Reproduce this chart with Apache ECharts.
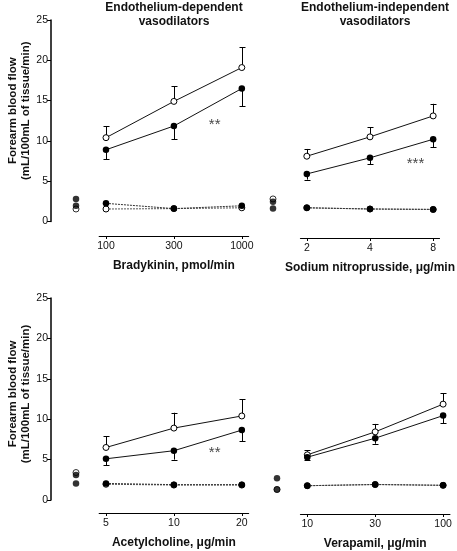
<!DOCTYPE html>
<html><head><meta charset="utf-8">
<script src="https://cdn.jsdelivr.net/npm/echarts@6/dist/echarts.min.js"></script>
<style>html,body{margin:0;padding:0;background:#fff}#c{width:457px;height:551px}</style>
</head><body><div id="c"></div>
<script>
// ---- data ----
const yTicks = [0, 5, 10, 15, 20, 25];
const brdkTicks = ['100', '300', '1000'];
const brdkOpen = [10.4, 14.9, 19.1];
const brdkOpenErr = [11.85, 16.8, 21.6];
const brdkFilled = [8.9, 11.85, 16.5];
const brdkFilledErr = [7.7, 10.2, 14.3];
const brdkOpenDash = [1.55, 1.6, 1.7];
const brdkFilledDash = [2.25, 1.6, 1.95];
const brdkBaseOpen = [1.55];
const brdkBaseFilled = [2.8, 1.95];

const snpTicks = ['2', '4', '8'];
const snpOpen = [8.1, 10.5, 13.1];
const snpOpenErr = [9.0, 11.7, 14.6];
const snpFilled = [5.9, 7.9, 10.2];
const snpFilledErr = [5.2, 7.1, 9.2];
const snpOpenDash = [1.7, 1.55, 1.5];
const snpFilledDash = [1.7, 1.55, 1.5];
const snpBaseOpen = [2.8];
const snpBaseFilled = [2.45, 1.6];

const achTicks = ['5', '10', '20'];
const achOpen = [6.5, 8.9, 10.4];
const achOpenErr = [7.9, 10.8, 12.5];
const achFilled = [5.1, 6.1, 8.65];
const achFilledErr = [4.3, 5.0, 7.25];
const achOpenDash = [1.95, 1.85, 1.85];
const achFilledDash = [2.05, 1.9, 1.9];
const achBaseOpen = [3.4];
const achBaseFilled = [3.1, 2.05];

const verTicks = ['10', '30', '100'];
const verOpen = [5.2, 8.1, 11.6];
const verOpenErr = [5.8, 9.1, 13.0];
const verFilled = [4.9, 7.3, 10.15];
const verFilledErr = [4.5, 6.6, 9.2];
const verOpenDash = [1.3, 1.45, 1.35];
const verFilledDash = [1.3, 1.45, 1.35];
const verBaseOpen = [1.3];
const verBaseFilled = [2.7, 1.3];

const brdkStars = [[1.6, 12.0, '**']];
const snpStars = [[1.72, 7.2, '***']];
const achStars = [[1.6, 5.8, '**']];
const verStars = [];

const titles = ['Endothelium-dependent\nvasodilators', 'Endothelium-independent\nvasodilators'];
const xNames = ['Bradykinin, pmol/min', 'Sodium nitroprusside, μg/min', 'Acetylcholine, μg/min', 'Verapamil, μg/min'];
const yName = 'Forearm blood flow\n(mL/100mL of tissue/min)';

// ---- layout ----
const FONT = 'Liberation Sans, Arial, sans-serif';
const panels = [
  {ticks: brdkTicks, open: brdkOpen, openErr: brdkOpenErr, filled: brdkFilled, filledErr: brdkFilledErr,
   openDash: brdkOpenDash, filledDash: brdkFilledDash, baseOpen: brdkBaseOpen, baseFilled: brdkBaseFilled, stars: brdkStars,
   top: 20, height: 201.5, mainLeft: 99.2, baseLeft: 51, baseWidth: 50, showY: true, xOffset: 14.5, name: xNames[0], nameShift: 20},
  {ticks: snpTicks, open: snpOpen, openErr: snpOpenErr, filled: snpFilled, filledErr: snpFilledErr,
   openDash: snpOpenDash, filledDash: snpFilledDash, baseOpen: snpBaseOpen, baseFilled: snpBaseFilled, stars: snpStars,
   top: 20, height: 201.5, mainLeft: 300.5, baseLeft: 263, baseWidth: 20, showY: false, xOffset: 16.5, name: xNames[1], nameShift: 0},
  {ticks: achTicks, open: achOpen, openErr: achOpenErr, filled: achFilled, filledErr: achFilledErr,
   openDash: achOpenDash, filledDash: achFilledDash, baseOpen: achBaseOpen, baseFilled: achBaseFilled, stars: achStars,
   top: 298, height: 202, mainLeft: 99.2, baseLeft: 51, baseWidth: 50, showY: true, xOffset: 13, name: xNames[2], nameShift: 10},
  {ticks: verTicks, open: verOpen, openErr: verOpenErr, filled: verFilled, filledErr: verFilledErr,
   openDash: verOpenDash, filledDash: verFilledDash, baseOpen: verBaseOpen, baseFilled: verBaseFilled, stars: verStars,
   top: 298, height: 202, mainLeft: 300.5, baseLeft: 267, baseWidth: 20, showY: false, xOffset: 18, name: xNames[3], nameShift: 0}
];
const MAIN_W = 149.4;

const grid = [], xAxis = [], yAxis = [], series = [];
function errRender(params, api) {
  const p1 = api.coord([api.value(0), api.value(1)]);
  const p2 = api.coord([api.value(0), api.value(2)]);
  const st = {stroke: '#000', lineWidth: 1};
  const x = Math.round(p1[0]) + 0.5;
  return {type: 'group', children: [
    {type: 'line', shape: {x1: x, y1: p1[1], x2: x, y2: p2[1]}, style: st},
    {type: 'line', shape: {x1: x - 3, y1: Math.round(p2[1]) + 0.5, x2: x + 3, y2: Math.round(p2[1]) + 0.5}, style: st}
  ]};
}
panels.forEach((p, k) => {
  const bi = 2 * k, mi = 2 * k + 1;
  grid.push({left: p.baseLeft, top: p.top, width: p.baseWidth, height: p.height});
  grid.push({left: p.mainLeft, top: p.top, width: MAIN_W, height: p.height});
  xAxis.push({gridIndex: bi, type: 'value', min: 0, max: 1, show: false});
  xAxis.push({gridIndex: mi, type: 'value', min: -0.1, max: 2.1, offset: p.xOffset, position: 'bottom',
    axisLine: {show: true, onZero: false, lineStyle: {color: '#000', width: 1.2}},
    axisTick: {show: true, customValues: [0, 1, 2], length: 3, lineStyle: {color: '#000', width: 1}},
    axisLabel: {customValues: [0, 1, 2], formatter: v => p.ticks[Math.round(v)], color: '#111',
      fontFamily: FONT, fontSize: 10.5, margin: 5},
    splitLine: {show: false},
    name: p.name, nameLocation: 'middle', nameGap: 24,
    nameTextStyle: {fontFamily: FONT, fontWeight: 'bold', fontSize: 12, color: '#111'}});
  yAxis.push({gridIndex: bi, type: 'value', min: 0, max: 25, interval: 5, show: p.showY, position: 'left', z: 10,
    axisLine: {show: true, onZero: false, lineStyle: {color: 'rgba(0,0,0,1)', width: 1.5}},
    axisTick: {show: true, length: 4, lineStyle: {color: '#000', width: 1}},
    axisLabel: {color: '#111', fontFamily: FONT, fontSize: 10.5, margin: 3},
    splitLine: {show: false},
    name: p.showY ? yName : '', nameLocation: 'middle', nameGap: 17, nameRotate: 90,
    nameTextStyle: {fontFamily: FONT, fontWeight: 'bold', fontSize: 11.5, color: '#111', lineHeight: 13,
      padding: [0, 0, 0, p.nameShift]}});
  yAxis.push({gridIndex: mi, type: 'value', min: 0, max: 25, show: false, splitLine: {show: false}});

  const idx = arr => arr.map((v, i) => [i, v]);
  const errData = (a, e) => a.map((v, i) => [i, v, e[i]]);
  const openSym = {color: '#fff', borderColor: '#000', borderWidth: 1};
  const fillSym = {color: '#000', borderColor: '#000', borderWidth: 0};
  series.push({type: 'scatter', xAxisIndex: bi, yAxisIndex: bi, symbolSize: 6, itemStyle: openSym,
    data: p.baseOpen.map(v => [0.5, v]), z: 3, silent: true});
  series.push({type: 'scatter', xAxisIndex: bi, yAxisIndex: bi, symbolSize: 6.5, itemStyle: fillSym,
    data: p.baseFilled.map(v => [0.5, v]), z: 4, silent: true});
  series.push({type: 'line', xAxisIndex: mi, yAxisIndex: mi, data: idx(p.openDash), symbol: 'circle', symbolSize: 6,
    lineStyle: {color: '#555', width: 1, type: [2, 1]}, itemStyle: openSym, z: 3, silent: true});
  series.push({type: 'line', xAxisIndex: mi, yAxisIndex: mi, data: idx(p.filledDash), symbol: 'circle', symbolSize: 6.5,
    lineStyle: {color: '#333', width: 1, type: [2, 1]}, itemStyle: fillSym, z: 4, silent: true});
  series.push({type: 'custom', xAxisIndex: mi, yAxisIndex: mi, renderItem: errRender, data: errData(p.open, p.openErr), z: 2, silent: true});
  series.push({type: 'custom', xAxisIndex: mi, yAxisIndex: mi, renderItem: errRender, data: errData(p.filled, p.filledErr), z: 2, silent: true});
  series.push({type: 'line', xAxisIndex: mi, yAxisIndex: mi, data: idx(p.open), symbol: 'circle', symbolSize: 6,
    lineStyle: {color: '#111', width: 1}, itemStyle: openSym, z: 5, silent: true});
  series.push({type: 'line', xAxisIndex: mi, yAxisIndex: mi, data: idx(p.filled), symbol: 'circle', symbolSize: 6.5,
    lineStyle: {color: '#111', width: 1}, itemStyle: fillSym, z: 6, silent: true});
  series.push({type: 'scatter', xAxisIndex: mi, yAxisIndex: mi, symbolSize: 0, silent: true,
    data: p.stars.map(s => ({value: [s[0], s[1]], label: {show: true, formatter: s[2]}})),
    label: {show: true, position: 'inside', color: '#111', fontFamily: FONT, fontSize: 15}});
});

const chart = echarts.init(document.getElementById('c'), null, {renderer: 'canvas'});
chart.setOption({
  animation: false,
  backgroundColor: '#fff',
  grid, xAxis, yAxis, series,
  graphic: [
    {type: 'text', x: 174, y: 1, style: {text: titles[0], textAlign: 'center', font: 'bold 12px ' + FONT, lineHeight: 14, fill: '#111'}},
    {type: 'text', x: 375, y: 1, style: {text: titles[1], textAlign: 'center', font: 'bold 12px ' + FONT, lineHeight: 14, fill: '#111'}}
  ]
});
</script></body></html>
